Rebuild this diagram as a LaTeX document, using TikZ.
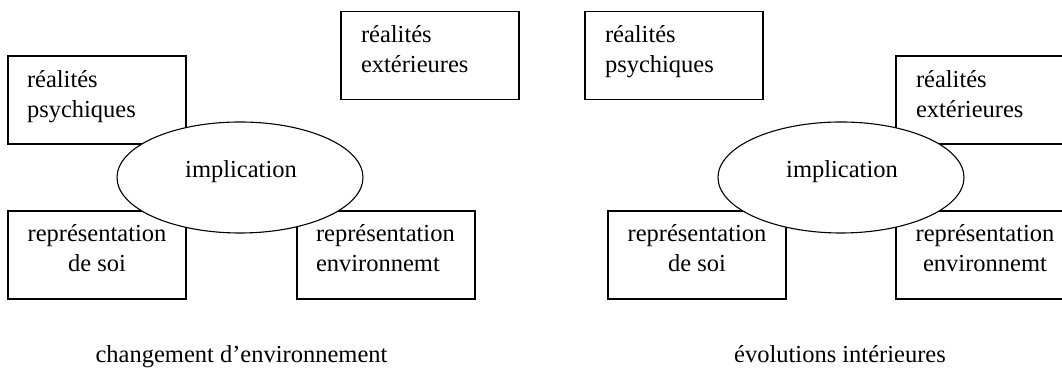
\documentclass[tikz,border=0pt]{standalone}
\usepackage{fontspec}
\setmainfont{Liberation Serif}
\usetikzlibrary{shapes.geometric}
\tikzset{
  box/.style={draw=black, line width=0.55pt, rectangle, minimum width=89pt, minimum height=44pt, inner sep=0pt, outer sep=0pt},
  oval/.style={draw=black, line width=0.55pt, ellipse, fill=white, minimum width=123pt, minimum height=55.5pt, inner sep=0pt, outer sep=0pt},
  txt/.style={inner sep=0pt, outer sep=0pt, font=\fontsize{12.25}{15}\selectfont},
}
\begin{document}
\begin{tikzpicture}[x=0.5pt, y=-0.5pt]
\useasboundingbox (0,0) rectangle (1062,383);
\clip (0,0) rectangle (1062,383);
% ---------- left diagram ----------
\node[box] (psyA) at (97,100) {};
\node[box] (extA) at (430,55.5) {};
\node[box] (soiA) at (97,255) {};
\node[box] (envA) at (386,255) {};
\node[oval] (impA) at (240,177.5) {};
\node[txt, anchor=base west] (tpsyA) at (27,88) {\begin{tabular}[t]{@{}l@{}}réalités\\psychiques\end{tabular}};
\node[txt, anchor=base west] (textA) at (361,43) {\begin{tabular}[t]{@{}l@{}}réalités\\extérieures\end{tabular}};
\node[txt, anchor=base] (tsoiA) at (97,242) {\begin{tabular}[t]{@{}c@{}}représentation\\de soi\end{tabular}};
\node[txt, anchor=base west] (tenvA) at (316,242) {\begin{tabular}[t]{@{}l@{}}représentation\\environnemt\end{tabular}};
\node[txt, anchor=base] (timpA) at (241,178) {implication};
\node[txt, anchor=base] (capA) at (241.5,363) {changement d’environnement};
% ---------- right diagram ----------
\node[box] (psyB) at (674,55.5) {};
\node[box] (extB) at (985,100) {};
\node[box] (soiB) at (697,255) {};
\node[box] (envB) at (985,255) {};
\node[oval] (impB) at (841,177.5) {};
\node[txt, anchor=base west] (tpsyB) at (605,43) {\begin{tabular}[t]{@{}l@{}}réalités\\psychiques\end{tabular}};
\node[txt, anchor=base west] (textB) at (916,88) {\begin{tabular}[t]{@{}l@{}}réalités\\extérieures\end{tabular}};
\node[txt, anchor=base] (tsoiB) at (697,242) {\begin{tabular}[t]{@{}c@{}}représentation\\de soi\end{tabular}};
\node[txt, anchor=base] (tenvB) at (985,242) {\begin{tabular}[t]{@{}c@{}}représentation\\environnemt\end{tabular}};
\node[txt, anchor=base] (timpB) at (842,178) {implication};
\node[txt, anchor=base] (capB) at (840,363) {évolutions intérieures};
\end{tikzpicture}
\end{document}
